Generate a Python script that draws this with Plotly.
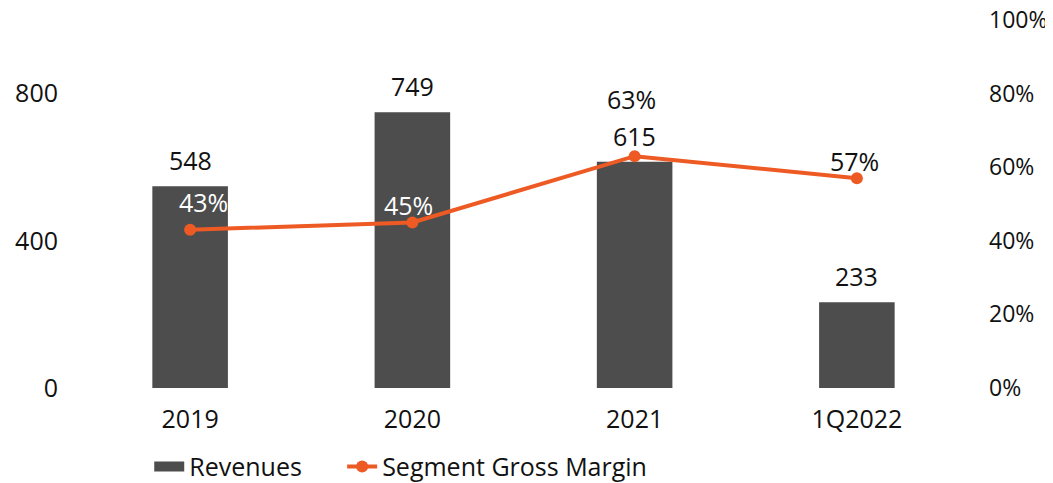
import plotly.graph_objects as go

categories = ["2019", "2020", "2021", "1Q2022"]
revenues = [548, 749, 615, 233]
gross_margin = [0.43, 0.45, 0.63, 0.57]
margin_labels = ["43%", "45%", "63%", "57%"]
left_ticks = [0, 400, 800]
right_ticks = [0, 0.2, 0.4, 0.6, 0.8, 1.0]
right_tick_text = ["0%", "20%", "40%", "60%", "80%", "100%"]

BAR_COLOR = "#4d4d4d"
LINE_COLOR = "#ee5a24"
FONT = "Open Sans"
FS = 25

fig = go.Figure()
fig.add_trace(go.Bar(
    x=categories, y=revenues, name="Revenues",
    marker=dict(color=BAR_COLOR, line=dict(width=0)),
    width=0.34, yaxis="y", showlegend=False,
))
# legend swatch for revenues (wide rectangle like the reference)
fig.add_trace(go.Scatter(
    x=[None], y=[None], name="Revenues", mode="lines",
    line=dict(color=BAR_COLOR, width=12), yaxis="y", legend="legend",
))
fig.add_trace(go.Scatter(
    x=categories, y=gross_margin, name="Segment Gross Margin",
    mode="lines+markers", yaxis="y2", legend="legend2",
    line=dict(color=LINE_COLOR, width=4),
    marker=dict(color=LINE_COLOR, size=12),
))

annotations = []
for i, v in enumerate(revenues):
    annotations.append(dict(x=i, y=v, xref="x", yref="y", text=str(v),
                            showarrow=False, yshift=26,
                            font=dict(size=FS, color="#111111", family=FONT)))

label_style = [(13, 28, "white"), (-4, 17, "white"), (-3, 57, "#111111"), (-2, 17, "#111111")]
for i, (v, t, (dx, dy, col)) in enumerate(zip(gross_margin, margin_labels, label_style)):
    annotations.append(dict(x=i, y=v, xref="x", yref="y2", text=t,
                            showarrow=False, xshift=dx, yshift=dy,
                            font=dict(size=FS, color=col, family=FONT)))

legend_common = dict(orientation="h", yref="container", y=0.05, yanchor="middle",
                     xanchor="left", font=dict(size=FS, family=FONT, color="#111111"),
                     itemwidth=30, bgcolor="rgba(0,0,0,0)")

fig.update_layout(
    width=1053, height=483,
    margin=dict(l=71, r=93, t=12, b=103, autoexpand=False),
    paper_bgcolor="white", plot_bgcolor="white",
    font=dict(family=FONT, size=FS, color="#111111"),
    showlegend=True,
    legend=dict(x=0.079, **legend_common),
    legend2=dict(x=0.296, **legend_common),
    xaxis=dict(type="category", showgrid=False, showline=False, zeroline=False, ticks="",
               ticklabelstandoff=14, tickfont=dict(size=FS, family=FONT)),
    yaxis=dict(range=[0, 1000], tickvals=left_ticks, showgrid=False, zeroline=False,
               showline=False, ticks="", ticklabelstandoff=20,
               tickfont=dict(size=FS, family=FONT)),
    yaxis2=dict(range=[0, 1], tickvals=right_ticks, ticktext=right_tick_text,
                overlaying="y", side="right", showgrid=False, zeroline=False,
                showline=False, ticks="", ticklabelstandoff=20,
                ticklabeloverflow="allow",
                tickfont=dict(size=23, family=FONT)),
    annotations=annotations,
)

fig.write_html("out.html")
